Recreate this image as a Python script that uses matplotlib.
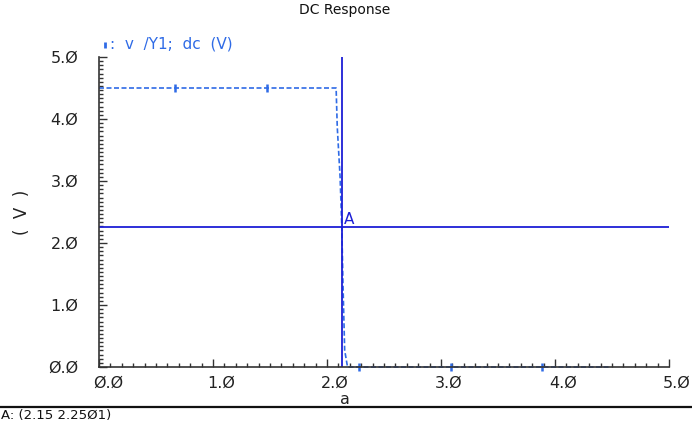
import matplotlib
matplotlib.use("Agg")
import matplotlib.pyplot as plt
import matplotlib.transforms as mtrans
from matplotlib.ticker import MultipleLocator, FixedLocator, FixedFormatter

# ---- data ----
curve_x = [0.0, 0.67, 1.47, 2.08, 2.09, 2.115, 2.13, 2.14, 2.155, 2.18, 2.28, 3.09, 3.89, 4.48]
curve_y = [4.5, 4.5, 4.5, 4.5, 3.87, 3.06, 2.25, 1.35, 0.27, 0.0, 0.0, 0.0, 0.0, 0.0]
marker_x = [0.67, 1.47, 2.28, 3.09, 3.89]
marker_y = [4.5, 4.5, 0.0, 0.0, 0.0]
cursor_x = 2.13
cursor_y = 2.2501
x_ticks = [0.0, 1.0, 2.0, 3.0, 4.0, 5.0]
x_ticklabels = ["Ø.Ø", "1.Ø", "2.Ø", "3.Ø", "4.Ø", "5.Ø"]
y_ticks = [0.0, 1.0, 2.0, 3.0, 4.0, 5.0]
y_ticklabels = ["Ø.Ø", "1.Ø", "2.Ø", "3.Ø", "4.Ø", "5.Ø"]

curve_color = "#2f6be6"
cursor_color = "#1c1fd6"
axis_color = "#333333"

plt.rcParams['font.family'] = ['DejaVu Sans']

fig = plt.figure(figsize=(6.92, 4.25), dpi=100)
ax = fig.add_axes([99/692, 58/425, (669-99)/692, (367-57)/425])
ax.set_xlim(0, 5)
ax.set_ylim(0, 5)

ax.plot(curve_x, curve_y, color=curve_color, lw=1.2, ls=(0, (3, 1.5)), clip_on=False)
ax.plot(marker_x, marker_y, ls='none', marker='|', ms=6, mew=1.8, color=curve_color, clip_on=False)
ax.axvline(cursor_x, color=cursor_color, lw=1.3, ymin=0, ymax=1.0)
ax.axhline(cursor_y, color=cursor_color, lw=1.3, xmin=0, xmax=1.0)
ax.text(cursor_x + 0.02, cursor_y + 0.01, "A", color=cursor_color, fontsize=11, ha='left', va='bottom')

for s in ['top', 'right']:
    ax.spines[s].set_visible(False)
for s in ['left', 'bottom']:
    ax.spines[s].set_color(axis_color)
    ax.spines[s].set_linewidth(1.2)

ax.xaxis.set_major_locator(FixedLocator(x_ticks))
ax.xaxis.set_major_formatter(FixedFormatter(x_ticklabels))
ax.yaxis.set_major_locator(FixedLocator(y_ticks))
ax.yaxis.set_major_formatter(FixedFormatter(y_ticklabels))
ax.xaxis.set_minor_locator(MultipleLocator(0.1))
ax.yaxis.set_minor_locator(MultipleLocator(1/15))
ax.tick_params(which='both', direction='in', color=axis_color, width=1.0)
ax.tick_params(which='major', length=6)
ax.tick_params(which='minor', length=3)
ax.tick_params(axis='y', which='major', pad=15, labelsize=11.5, labelcolor='#222222')
ax.tick_params(axis='x', which='major', pad=6, labelsize=11.5, labelcolor='#222222')
offset = mtrans.ScaledTranslation(-6/100, 0, fig.dpi_scale_trans)
for lab in ax.get_xticklabels():
    lab.set_horizontalalignment('left')
    lab.set_transform(lab.get_transform() + offset)

fig.text(345/692, 1 - 10/425, "DC Response", ha='center', va='center', fontsize=10, color='#111111')
fig.text(22/692, 1 - 212/425, "(  V  )", ha='center', va='center', rotation=90, fontsize=12, color='#222222')
fig.text(345/692, 1 - 399/425, "a", ha='center', va='center', fontsize=11.5, color='#222222')

# legend entry
fig.lines.append(plt.Line2D([105/692], [1 - 45/425], transform=fig.transFigure, ls='none',
                            marker='|', ms=5, mew=2, color=curve_color))
fig.text(110/692, 1 - 44/425, ":  v  /Y1;  dc  (V)", ha='left', va='center', fontsize=11, color=curve_color)

# status bar
fig.lines.append(plt.Line2D([0, 1], [1 - 407/425, 1 - 407/425], transform=fig.transFigure,
                            color='#111111', lw=1.6))
fig.text(1/692, 1 - 416/425, "A: (2.15 2.25Ø1)", ha='left', va='center', fontsize=9.5, color='#111111')

fig.savefig("out.png", dpi=100)
